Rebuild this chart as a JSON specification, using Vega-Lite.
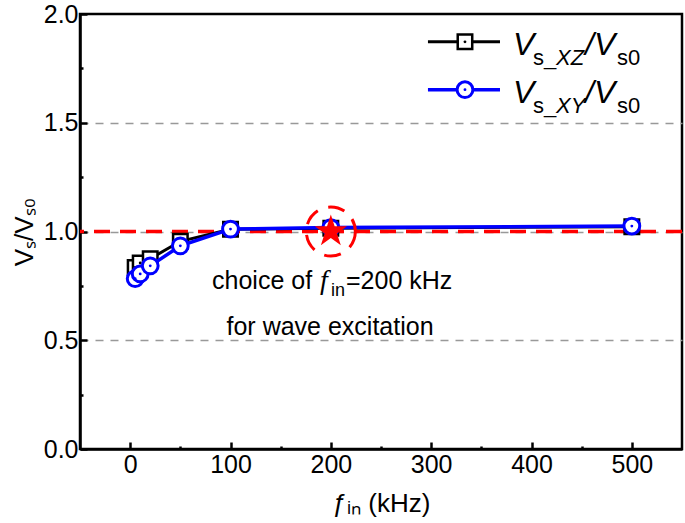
{
  "$schema": "https://vega.github.io/schema/vega-lite/v6.json",
  "width": 602,
  "height": 435,
  "autosize": {"type": "none"},
  "padding": {"left": 80, "top": 14, "right": 3, "bottom": 74},
  "config": {
    "view": {"stroke": "black", "strokeWidth": 2.5},
    "font": "Liberation Sans",
    "axis": {
      "domainColor": "black",
      "domainWidth": 2.5,
      "tickColor": "black",
      "tickWidth": 2.5,
      "labelColor": "black",
      "labelFont": "Liberation Sans",
      "labelFontSize": 25,
      "titleColor": "black",
      "titleFont": "Liberation Sans",
      "titleFontSize": 26,
      "titleFontWeight": "normal"
    }
  },
  "data": {
    "values": [
      {"f": 5, "series": "XZ", "v": 0.835},
      {"f": 10, "series": "XZ", "v": 0.855},
      {"f": 20, "series": "XZ", "v": 0.875},
      {"f": 50, "series": "XZ", "v": 0.955},
      {"f": 100, "series": "XZ", "v": 1.01},
      {"f": 200, "series": "XZ", "v": 1.015},
      {"f": 500, "series": "XZ", "v": 1.022},
      {"f": 5, "series": "XY", "v": 0.783},
      {"f": 10, "series": "XY", "v": 0.805},
      {"f": 20, "series": "XY", "v": 0.842},
      {"f": 50, "series": "XY", "v": 0.934},
      {"f": 100, "series": "XY", "v": 1.011},
      {"f": 200, "series": "XY", "v": 1.018},
      {"f": 500, "series": "XY", "v": 1.025}
    ]
  },
  "layer": [
    {
      "data": {"values": [{}]},
      "mark": {"type": "rule", "color": "#ff0000", "strokeWidth": 3.5, "strokeDash": [16, 10]},
      "encoding": {"y": {"datum": 1, "type": "quantitative"}}
    },
    {
      "transform": [{"filter": "datum.series == 'XZ'"}],
      "mark": {"type": "line", "color": "black", "strokeWidth": 3},
      "encoding": {
        "x": {
          "field": "f", "type": "quantitative",
          "scale": {"domain": [-50, 550], "nice": false, "zero": false},
          "axis": {
            "values": [0, 50, 100, 150, 200, 250, 300, 350, 400, 450, 500],
            "labelExpr": "datum.value % 100 == 0 ? datum.label : ''",
            "tickSize": {"condition": {"test": "datum.value % 100 == 0", "value": -7}, "value": -3},
            "labelPadding": 10,
            "grid": false,
            "title": "ƒᵢₙ (kHz)",
            "titlePadding": 13
          }
        },
        "y": {
          "field": "v", "type": "quantitative",
          "scale": {"domain": [0, 2], "nice": false, "zero": false},
          "axis": {
            "values": [0, 0.25, 0.5, 0.75, 1, 1.25, 1.5, 1.75, 2],
            "labelExpr": "(datum.value * 2) % 1 == 0 ? format(datum.value, '.1f') : ''",
            "tickSize": {"condition": {"test": "(datum.value * 2) % 1 == 0", "value": -7}, "value": -3},
            "labelPadding": 9,
            "grid": true,
            "gridColor": "#999999",
            "gridDash": [8, 7],
            "gridWidth": 1.5,
            "gridOpacity": {"condition": {"test": "datum.value == 0.5 || datum.value == 1 || datum.value == 1.5", "value": 1}, "value": 0},
            "title": "Vₛ/Vₛ₀",
            "titlePadding": 6
          }
        }
      }
    },
    {
      "transform": [{"filter": "datum.series == 'XZ'"}],
      "mark": {"type": "point", "shape": "square", "filled": true, "fill": "white", "stroke": "black", "strokeWidth": 2.5, "size": 210, "opacity": 1},
      "encoding": {"x": {"field": "f", "type": "quantitative"}, "y": {"field": "v", "type": "quantitative"}}
    },
    {
      "transform": [{"filter": "datum.series == 'XZ'"}],
      "mark": {"type": "point", "shape": "circle", "filled": true, "color": "black", "size": 8, "opacity": 1},
      "encoding": {"x": {"field": "f", "type": "quantitative"}, "y": {"field": "v", "type": "quantitative"}}
    },
    {
      "transform": [{"filter": "datum.series == 'XY'"}],
      "mark": {"type": "line", "color": "#0000ff", "strokeWidth": 3.5},
      "encoding": {"x": {"field": "f", "type": "quantitative"}, "y": {"field": "v", "type": "quantitative"}}
    },
    {
      "transform": [{"filter": "datum.series == 'XY'"}],
      "mark": {"type": "point", "shape": "circle", "filled": true, "fill": "white", "stroke": "#0000ff", "strokeWidth": 3, "size": 250, "opacity": 1},
      "encoding": {"x": {"field": "f", "type": "quantitative"}, "y": {"field": "v", "type": "quantitative"}}
    },
    {
      "transform": [{"filter": "datum.series == 'XY'"}],
      "mark": {"type": "point", "shape": "circle", "filled": true, "color": "#0000ff", "size": 8, "opacity": 1},
      "encoding": {"x": {"field": "f", "type": "quantitative"}, "y": {"field": "v", "type": "quantitative"}}
    },
    {
      "data": {"values": [{}]},
      "mark": {"type": "point", "shape": "circle", "filled": false, "stroke": "#ff0000", "strokeWidth": 3, "strokeDash": [17, 11], "size": 2400, "opacity": 1},
      "encoding": {"x": {"datum": 200, "type": "quantitative"}, "y": {"datum": 1, "type": "quantitative"}}
    },
    {
      "data": {"values": [{}]},
      "mark": {"type": "point", "shape": "M0,-1L0.2245,-0.309L0.951,-0.309L0.363,0.118L0.588,0.809L0,0.382L-0.588,0.809L-0.363,0.118L-0.951,-0.309L-0.2245,-0.309Z", "filled": true, "color": "#ff0000", "size": 1150, "opacity": 1},
      "encoding": {"x": {"datum": 200, "type": "quantitative"}, "y": {"datum": 1, "type": "quantitative"}}
    },
    {
      "data": {"values": [{}]},
      "mark": {"type": "text", "align": "left", "baseline": "alphabetic", "fontSize": 25, "font": "Liberation Sans", "color": "black", "text": "choice of"},
      "encoding": {"x": {"datum": 81.6, "type": "quantitative"}, "y": {"datum": 0.735, "type": "quantitative"}}
    },
    {
      "data": {"values": [{}]},
      "mark": {"type": "text", "align": "left", "baseline": "alphabetic", "fontSize": 28, "font": "Liberation Serif", "fontStyle": "italic", "color": "black", "text": "f"},
      "encoding": {"x": {"datum": 189.2, "type": "quantitative"}, "y": {"datum": 0.735, "type": "quantitative"}}
    },
    {
      "data": {"values": [{}]},
      "mark": {"type": "text", "align": "left", "baseline": "alphabetic", "fontSize": 18, "font": "Liberation Sans", "color": "black", "text": "in"},
      "encoding": {"x": {"datum": 200.2, "type": "quantitative"}, "y": {"datum": 0.702, "type": "quantitative"}}
    },
    {
      "data": {"values": [{}]},
      "mark": {"type": "text", "align": "left", "baseline": "alphabetic", "fontSize": 25, "font": "Liberation Sans", "color": "black", "text": "=200 kHz"},
      "encoding": {"x": {"datum": 215.1, "type": "quantitative"}, "y": {"datum": 0.735, "type": "quantitative"}}
    },
    {
      "data": {"values": [{}]},
      "mark": {"type": "text", "align": "center", "baseline": "alphabetic", "fontSize": 25, "font": "Liberation Sans", "color": "black", "text": "for wave excitation"},
      "encoding": {"x": {"datum": 199.2, "type": "quantitative"}, "y": {"datum": 0.526, "type": "quantitative"}}
    },
    {
      "data": {"values": [{}]},
      "mark": {"type": "rule", "color": "black", "strokeWidth": 3},
      "encoding": {"x": {"datum": 296.8, "type": "quantitative"}, "x2": {"datum": 368.6}, "y": {"datum": 1.872, "type": "quantitative"}}
    },
    {
      "data": {"values": [{}]},
      "mark": {"type": "point", "shape": "square", "filled": true, "fill": "white", "stroke": "black", "strokeWidth": 2.5, "size": 210, "opacity": 1},
      "encoding": {"x": {"datum": 333.7, "type": "quantitative"}, "y": {"datum": 1.872, "type": "quantitative"}}
    },
    {
      "data": {"values": [{}]},
      "mark": {"type": "point", "shape": "circle", "filled": true, "color": "black", "size": 8, "opacity": 1},
      "encoding": {"x": {"datum": 333.7, "type": "quantitative"}, "y": {"datum": 1.872, "type": "quantitative"}}
    },
    {
      "data": {"values": [{}]},
      "mark": {"type": "rule", "color": "#0000ff", "strokeWidth": 3.5},
      "encoding": {"x": {"datum": 296.8, "type": "quantitative"}, "x2": {"datum": 368.6}, "y": {"datum": 1.652, "type": "quantitative"}}
    },
    {
      "data": {"values": [{}]},
      "mark": {"type": "point", "shape": "circle", "filled": true, "fill": "white", "stroke": "#0000ff", "strokeWidth": 3, "size": 250, "opacity": 1},
      "encoding": {"x": {"datum": 333.7, "type": "quantitative"}, "y": {"datum": 1.652, "type": "quantitative"}}
    },
    {
      "data": {"values": [{}]},
      "mark": {"type": "point", "shape": "circle", "filled": true, "color": "#0000ff", "size": 8, "opacity": 1},
      "encoding": {"x": {"datum": 333.7, "type": "quantitative"}, "y": {"datum": 1.652, "type": "quantitative"}}
    },
    {
      "data": {"values": [{"row": 1.812, "sub": "XZ"}, {"row": 1.593, "sub": "XY"}]},
      "layer": [
        {
          "mark": {"type": "text", "align": "left", "baseline": "alphabetic", "fontSize": 32, "fontStyle": "italic", "font": "Liberation Sans", "color": "black", "text": "V"},
          "encoding": {"x": {"datum": 381.6, "type": "quantitative"}, "y": {"field": "row", "type": "quantitative"}}
        },
        {
          "mark": {"type": "text", "align": "left", "baseline": "alphabetic", "fontSize": 22, "font": "Liberation Sans", "color": "black", "dy": 10, "text": "s_"},
          "encoding": {"x": {"datum": 401.5, "type": "quantitative"}, "y": {"field": "row", "type": "quantitative"}}
        },
        {
          "mark": {"type": "text", "align": "left", "baseline": "alphabetic", "fontSize": 22, "fontStyle": "italic", "font": "Liberation Sans", "color": "black", "dy": 10},
          "encoding": {"x": {"datum": 424.5, "type": "quantitative"}, "y": {"field": "row", "type": "quantitative"}, "text": {"field": "sub"}}
        },
        {
          "mark": {"type": "text", "align": "left", "baseline": "alphabetic", "fontSize": 32, "fontStyle": "italic", "font": "Liberation Sans", "color": "black", "text": "/V"},
          "encoding": {"x": {"datum": 453.4, "type": "quantitative"}, "y": {"field": "row", "type": "quantitative"}}
        },
        {
          "mark": {"type": "text", "align": "left", "baseline": "alphabetic", "fontSize": 22, "font": "Liberation Sans", "color": "black", "dy": 10, "text": "s0"},
          "encoding": {"x": {"datum": 485.3, "type": "quantitative"}, "y": {"field": "row", "type": "quantitative"}}
        }
      ]
    }
  ]
}
